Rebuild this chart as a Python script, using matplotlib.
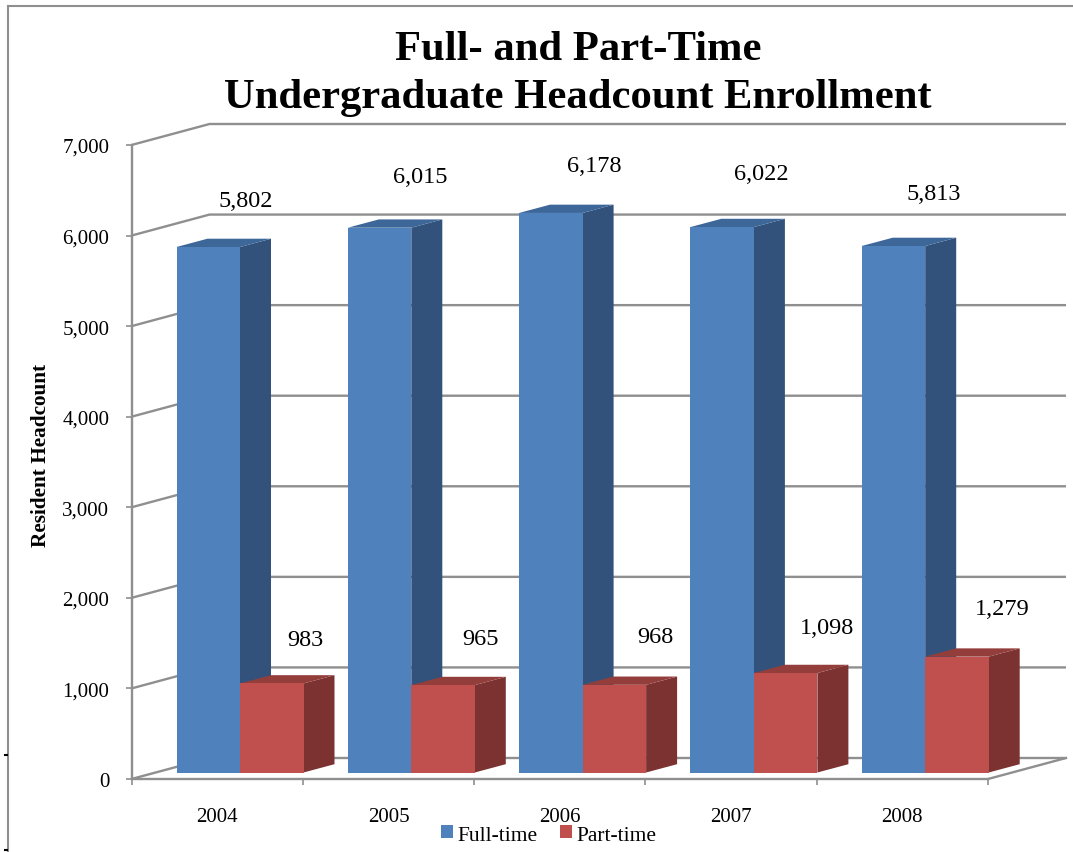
import matplotlib
matplotlib.use("Agg")
import matplotlib.pyplot as plt
from matplotlib.lines import Line2D
from matplotlib.patches import Polygon
from matplotlib.ticker import StrMethodFormatter

plt.rcParams["font.family"] = ["Liberation Serif", "DejaVu Serif"]

years = ["2004", "2005", "2006", "2007", "2008"]
full_time = [5802, 6015, 6178, 6022, 5813]
part_time = [983, 965, 968, 1098, 1279]
y_ticks = [0, 1000, 2000, 3000, 4000, 5000, 6000, 7000]

# hand placed data labels, pixels away from the top of each front face
full_nudge = [(38, 47), (41, 51), (43, 47), (39, 54), (40, 53)]
part_nudge = [(34, 44), (37, 47), (41, 48), (41, 46), (45, 48)]

W, H = 1073, 853
fig = plt.figure(figsize=(W / 100, H / 100), dpi=100)
ax = fig.add_axes([131.5 / W, 1 - 780 / H, (988 - 131.5) / W, (780 - 146) / H])
ax.set_xlim(0, 5)
ax.set_ylim(0, 7000)

# pixel sizes turned into data units
px_x = 5 / (988 - 131.5)
px_y = 7000 / (780 - 146)
wall_dx, wall_dy = 78 * px_x, 21 * px_y
depth_dx, depth_dy = 31 * px_x, 8.3 * px_y
bar_w = 63.5 * px_x
bar_left = 45 * px_x
base = 6.5 * px_y

grid_col = "#8f8f8f"
grid_lw = 1.7

# walls
for t in y_ticks:
    ax.plot([0, wall_dx, 5 + wall_dx], [t, t + wall_dy, t + wall_dy], color=grid_col,
            lw=grid_lw, clip_on=False, zorder=1, solid_capstyle="butt")
ax.plot([5, 5 + wall_dx], [0, wall_dy], color=grid_col, lw=grid_lw, clip_on=False, zorder=1)


def draw_bars(left, values, front, side, top, name, z):
    bars = ax.bar(left, values, width=bar_w, bottom=base, align="edge", color=front,
                  label=name, clip_on=False, zorder=z + 1)
    for x, v in zip(left, values):
        t = base + v
        ax.add_patch(Polygon([(x + bar_w, base), (x + bar_w + depth_dx, base + depth_dy),
                              (x + bar_w + depth_dx, t + depth_dy), (x + bar_w, t)],
                             facecolor=side, clip_on=False, zorder=z))
        ax.add_patch(Polygon([(x, t), (x + depth_dx, t + depth_dy),
                              (x + bar_w + depth_dx, t + depth_dy), (x + bar_w, t)],
                             facecolor=top, clip_on=False, zorder=z))
    return bars


pos = list(range(len(years)))
full_left = [i + bar_left for i in pos]
part_left = [x + bar_w for x in full_left]
full_bars = draw_bars(full_left, full_time, "#4f81bd", "#32527b", "#3d6699", "Full-time", 2)
part_bars = draw_bars(part_left, part_time, "#c0504d", "#7b3231", "#933e3b", "Part-time", 4)

for lefts, vals, nudges in [(full_left, full_time, full_nudge), (part_left, part_time, part_nudge)]:
    for x, v, n in zip(lefts, vals, nudges):
        ax.annotate(f"{v:,}", (x + bar_w / 2, base + v), xytext=n, textcoords="offset pixels",
                    ha="center", va="center", fontsize=17.5, color="black", zorder=10,
                    annotation_clip=False)

# axes
for s in ["top", "right"]:
    ax.spines[s].set_visible(False)
for s in ["left", "bottom"]:
    ax.spines[s].set_color(grid_col)
    ax.spines[s].set_linewidth(grid_lw)
ax.patch.set_visible(False)
ax.set_yticks(y_ticks)
ax.yaxis.set_major_formatter(StrMethodFormatter("{x:,.0f}"))
ax.tick_params(axis="y", length=4, width=1.2, color=grid_col, labelsize=15, pad=12)
ax.set_xticks(range(6))
ax.set_xticklabels([])
ax.tick_params(axis="x", which="major", length=4, width=1.2, color=grid_col)
ax.set_xticks([i + 0.5 for i in pos], minor=True)
ax.set_xticklabels(years, minor=True, fontsize=15)
ax.tick_params(axis="x", which="minor", length=0, pad=20.5)

fig.text(41 / W, 1 - 455 / H, "Resident Headcount", rotation=90, ha="center", va="center",
         fontsize=15.3, fontweight="bold")
fig.text(578 / W, 1 - 74 / H, "Full- and Part-Time\nUndergraduate Headcount Enrollment",
         ha="center", va="center", fontsize=30.7, fontweight="bold", linespacing=1.34)

fig.legend(handles=[full_bars, part_bars], loc="center", bbox_to_anchor=(549 / W, 1 - 836 / H),
           ncol=2, frameon=False, fontsize=15.5, handlelength=0.55, handleheight=0.55,
           handletextpad=0.2, columnspacing=1.05, borderpad=0, borderaxespad=0)

# page frame and stray marks from the scan
fig.add_artist(Line2D([8 / W, 8 / W], [0, 1 - 7 / H], color="#8f8f8f", lw=1.5))
fig.add_artist(Line2D([8 / W, 1], [1 - 7 / H, 1 - 7 / H], color="#8f8f8f", lw=1.5))
fig.add_artist(Line2D([5 / W, 7 / W], [1 - 756 / H, 1 - 756 / H], color="black", lw=1.5))
fig.add_artist(Line2D([5 / W, 7 / W], [1 - 851 / H, 1 - 851 / H], color="black", lw=1.5))

fig.savefig("out.png", dpi=100)
